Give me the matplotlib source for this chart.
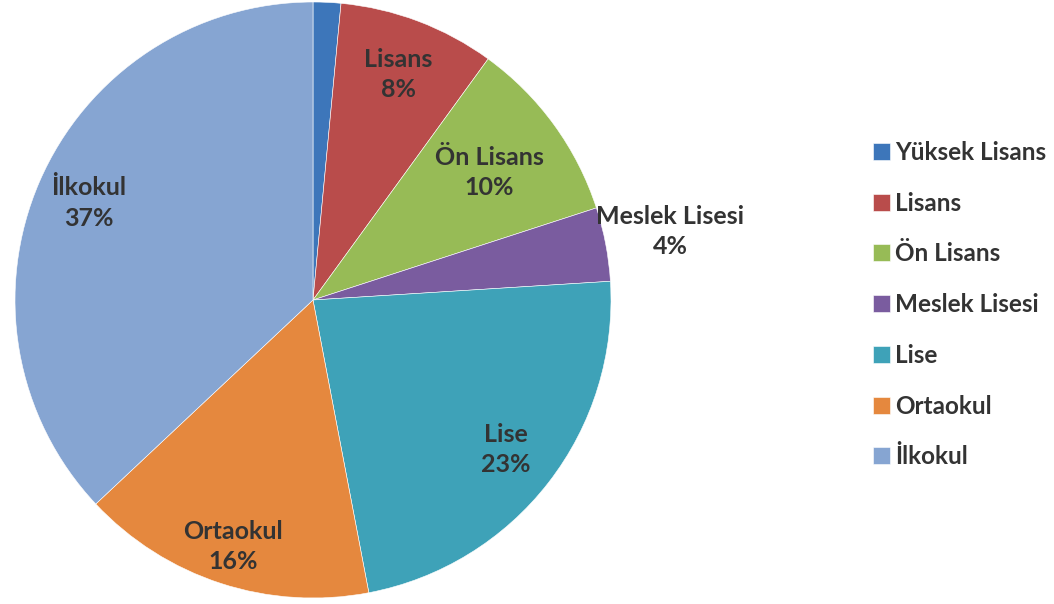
import numpy as np
import matplotlib
matplotlib.use('Agg')
import matplotlib.pyplot as plt

categories = ['Yüksek Lisans', 'Lisans', 'Ön Lisans', 'Meslek Lisesi',
              'Lise', 'Ortaokul', 'İlkokul']
values = [1.5, 8.5, 10, 4, 23, 16, 37]
shown_pct = ['', '8%', '10%', '4%', '23%', '16%', '37%']
colors = ['#3d76ba', '#b94c4b', '#97bb56', '#7a5c9f',
          '#3ea2b8', '#e5883e', '#86a5d2']
# radial position of each label (fraction of radius)
label_r = [0, 0.81, 0.73, 1.22, 0.82, 0.87, 0.82]

plt.rcParams['font.family'] = ['Lato', 'DejaVu Sans']
txt_color = '#333333'

fig = plt.figure(figsize=(10.54, 6.04), dpi=100)
cx, cy, r = 313, 300, 298
ax = fig.add_axes([(cx - r) / 1054, (604 - cy - r) / 604, 2 * r / 1054, 2 * r / 604])

wedges, _ = ax.pie(values, colors=colors, startangle=90, counterclock=False,
                   radius=1, wedgeprops=dict(edgecolor='white', linewidth=0.4))
ax.set_xlim(-1, 1)
ax.set_ylim(-1, 1)
ax.set_aspect('equal')
ax.axis('off')

for w, cat, pct, lr in zip(wedges, categories, shown_pct, label_r):
    if not pct:
        continue
    ang = np.deg2rad((w.theta1 + w.theta2) / 2)
    ax.text(lr * np.cos(ang), lr * np.sin(ang), f'{cat}\n{pct}',
            ha='center', va='center', fontsize=18, fontweight='bold',
            color=txt_color, linespacing=1.38)

leg = fig.legend(wedges, categories, loc='upper left',
                 bbox_to_anchor=(873 / 1054, 1 - 141 / 604),
                 frameon=False, prop=dict(size=17.5, weight='bold'),
                 handlelength=0.7, handleheight=0.7, handletextpad=0.2,
                 labelspacing=1.14, borderaxespad=0, borderpad=0)
for t in leg.get_texts():
    t.set_color(txt_color)

plt.savefig('out.png', dpi=100)
